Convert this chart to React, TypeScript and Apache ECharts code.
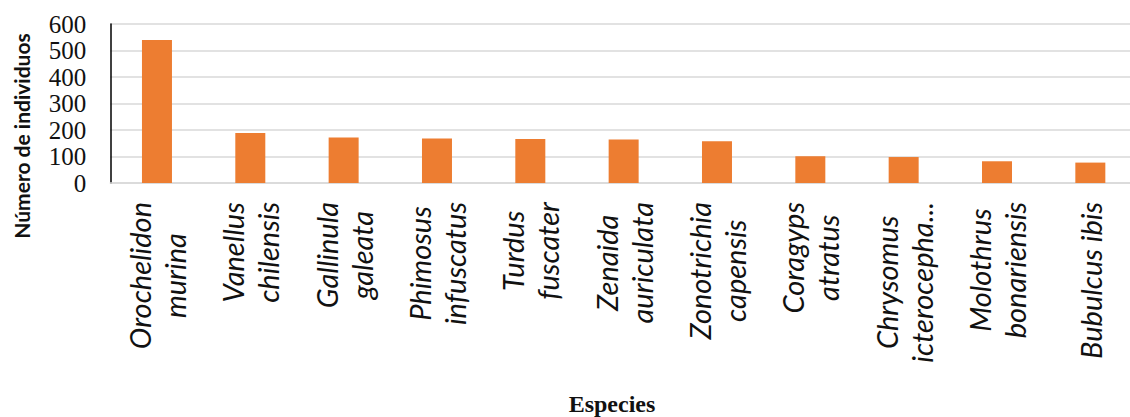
import React, { useEffect, useRef } from "react";
import * as echarts from "echarts";

const categories: string[] = [
  "Orochelidon\nmurina",
  "Vanellus\nchilensis",
  "Gallinula\ngaleata",
  "Phimosus\ninfuscatus",
  "Turdus\nfuscater",
  "Zenaida\nauriculata",
  "Zonotrichia\ncapensis",
  "Coragyps\natratus",
  "Chrysomus\nicterocepha...",
  "Molothrus\nbonariensis",
  "Bubulcus ibis",
];
const individuos: number[] = [540, 189, 172, 168, 166, 164, 158, 101, 98, 82, 77];
const yTicks: number[] = [0, 100, 200, 300, 400, 500, 600];
const yTitle = "Número de individuos";
const xTitle = "Especies";

export default function App() {
  const ref = useRef<HTMLDivElement>(null);
  useEffect(() => {
    document.body.style.margin = "0";
    if (!ref.current) return;
    const chart = echarts.init(ref.current, null, { renderer: "svg" });
    chart.setOption({
      animation: false,
      backgroundColor: "#ffffff",
      grid: { left: 110.3, top: 24, bottom: 234, right: 0 },
      xAxis: {
        type: "category",
        data: categories,
        axisLine: { show: true, lineStyle: { color: "#d9d9d9", width: 1.5 } },
        axisTick: { show: false },
        axisLabel: {
          interval: 0,
          rotate: 90,
          margin: 19,
          formatter: (v: string) =>
            v
              .split("\n")
              .map((l) => "{c|" + l + "}")
              .join("\n"),
          rich: {
            c: {
              fontFamily: "Lato",
              fontStyle: "italic",
              fontSize: 29,
              lineHeight: 35,
              align: "center",
              color: "#111",
            },
          },
        },
      },
      yAxis: {
        type: "value",
        min: yTicks[0],
        max: yTicks[yTicks.length - 1],
        interval: 100,
        axisLine: { show: true, lineStyle: { color: "#000", width: 1.5 } },
        axisTick: { show: false },
        splitLine: { lineStyle: { color: "#d9d9d9", width: 1.5 } },
        axisLabel: {
          margin: 24,
          fontFamily: "Liberation Serif",
          fontSize: 25,
          color: "#111",
        },
      },
      series: [
        {
          type: "bar",
          data: individuos,
          barWidth: 30,
          itemStyle: { color: "#ED7D31" },
        },
      ],
      graphic: [
        {
          type: "text",
          x: 21,
          y: 136,
          rotation: Math.PI / 2,
          style: {
            text: yTitle,
            fontFamily: "Lato",
            fontWeight: "bold",
            fontSize: 21,
            fill: "#111",
            align: "center",
            verticalAlign: "middle",
          },
        },
        {
          type: "text",
          x: 612,
          y: 404,
          style: {
            text: xTitle,
            fontFamily: "Liberation Serif",
            fontWeight: "bold",
            fontSize: 24,
            fill: "#111",
            align: "center",
            verticalAlign: "middle",
          },
        },
      ],
    });
    return () => chart.dispose();
  }, []);
  return (
    <div style={{ width: 1130, height: 417, overflow: "hidden", position: "relative" }}>
      <div ref={ref} style={{ width: 1137, height: 417 }} />
    </div>
  );
}
